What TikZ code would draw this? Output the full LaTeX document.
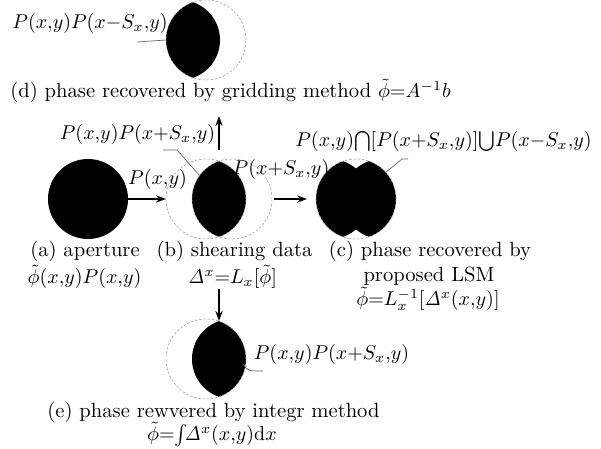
\documentclass[tikz,border=0pt]{standalone}
\usepackage{amsmath}
\usetikzlibrary{arrows.meta}
\begin{document}
\begin{tikzpicture}[x=0.5pt,y=-0.5pt,
  lbl/.style={inner sep=0pt, anchor=base, font=\fontsize{10.3}{12}\selectfont},
  ghost/.style={draw=gray!75, line width=0.3pt, dash pattern=on 1.2pt off 0.9pt},
  disk/.style={circle, minimum size=40pt, inner sep=0pt, outer sep=0pt},
  flow/.style={-{Stealth[length=5pt,width=3.6pt]}, line width=0.8pt},
  lead/.style={draw=gray!80!black, line width=0.35pt}]
\useasboundingbox (0,0) rectangle (601,449);

% ---------- (d) ----------
\coordinate (d1) at (180,40);
\node[disk] (d2) at (206,40) {};
\begin{scope}
  \clip (d1) circle[radius=20pt];
  \fill (d2) circle[radius=20pt];
\end{scope}
\draw[ghost] (d2) circle[radius=20pt];
\node[lbl, anchor=base west] (dlab) at (12,29) {$P(x{,}y)P(x{-}S_x{,}y)$};
\coordinate (dl0) at (137,42);
\draw[lead] (dl0) -- (d2.west);
\node[lbl, anchor=base west] (dcap) at (10,98) {(d) phase recovered by gridding method $\tilde{\phi}{=}A^{-1}b$};

% ---------- (a) ----------
\node[disk, fill=black] (A) at (88,199) {};
\node[lbl] (acap) at (85,257) {(a) aperture};
\node[lbl] (aform) at (84.5,284) {$\tilde{\phi}(x{,}y)P(x{,}y)$};

% ---------- (b) ----------
\node[disk] (BL) at (206,199) {};
\node[disk] (BR) at (232,199) {};
\begin{scope}
  \clip (BL) circle[radius=20pt];
  \fill (BR) circle[radius=20pt];
\end{scope}
\draw[ghost] (BL) circle[radius=20pt];
\draw[ghost] (BR) circle[radius=20pt];
\node[lbl] (bcap) at (234.5,257) {(b) shearing data};
\node[lbl] (bform) at (232.5,284) {$\mathit{\Delta}^{x}{=}L_x[\tilde{\phi}]$};
\node[lbl] (bup) at (137.5,140) {$P(x{,}y)P(x{+}S_x{,}y)$};
\node[lbl] (bright) at (281,175) {$P(x{+}S_x{,}y)$};
\node[lbl] (arrlab) at (157.5,185) {$P(x{,}y)$};
\coordinate (btop) at (219,161);
\coordinate (upend) at (219,116);
\coordinate (bl0) at (163,150);
\coordinate (bl1) at (177,150);
\coordinate (bl2) at (200,176);
\draw[lead] (bl0) -- (bl1) -- (bl2);

% ---------- (c) ----------
\node[disk] (C) at (356,199) {};
\coordinate (CL) at (330,199);
\coordinate (CR) at (382,199);
\begin{scope}
  \clip (C) circle[radius=20pt];
  \fill (CL) circle[radius=20pt];
  \fill (CR) circle[radius=20pt];
\end{scope}
\draw[ghost] (C) circle[radius=20pt];
\node[lbl] (clab) at (443.5,147) {$P(x{,}y){\bigcap}[P(x{+}S_x{,}y)]{\bigcup}P(x{-}S_x{,}y)$};
\coordinate (cl0) at (408,159);
\coordinate (cl1) at (402,159);
\coordinate (cl2) at (385,173);
\draw[lead] (cl0) -- (cl1) -- (cl2);
\node[lbl] (ccap) at (430,257) {(c) phase recovered by};
\node[lbl] (ccap2) at (429,282) {proposed LSM};
\node[lbl] (cform) at (428,306) {$\tilde{\phi}{=}L_x^{-1}[\mathit{\Delta}^x(x{,}y)]$};

% ---------- (e) ----------
\node[disk] (EL) at (206,359) {};
\node[disk] (ER) at (232,359) {};
\begin{scope}
  \clip (EL) circle[radius=20pt];
  \fill (ER) circle[radius=20pt];
\end{scope}
\draw[ghost] (EL) circle[radius=20pt];
\coordinate (etop) at (219,321);
\node[lbl] (elab) at (331.5,360) {$P(x{,}y)P(x{+}S_x{,}y)$};
\coordinate (el0) at (243,364);
\coordinate (el1) at (263,371);
\draw[lead] (el0) .. controls (248,371) .. (el1);
\node[lbl] (ecap) at (213.5,417) {(e) phase rewvered by integr method};
\node[lbl] (eform) at (212,441) {$\tilde{\phi}{=}{\textstyle\int}\!\mathit{\Delta}^x(x{,}y)\mathrm{d}x$};

% ---------- arrows ----------
\draw[flow] (A.east) -- (BL.west);
\draw[flow, shorten <=1pt, shorten >=4.5pt] (BR.east) -- (C.west);
\draw[flow, shorten <=5.5pt] (btop) -- (upend);
\draw[flow] (bform.south -| etop) -- (etop);
\end{tikzpicture}
\end{document}
